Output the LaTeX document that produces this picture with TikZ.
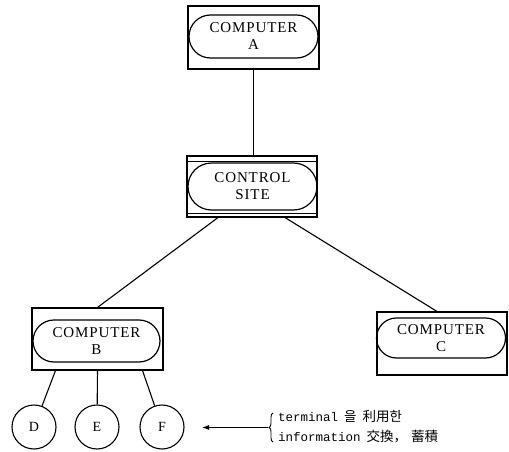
\documentclass[tikz,border=0pt]{standalone}
\usepackage{fontspec}
\setmainfont{Liberation Serif}
\newfontfamily\labelfont[LetterSpace=6]{Liberation Serif}
\newfontfamily\notefont{Liberation Mono}
\newfontfamily\cjkfont{Noto Sans CJK KR}
\usetikzlibrary{decorations.pathreplacing,arrows.meta}

\newcommand{\latinpart}[1]{{\notefont\fontsize{12.5}{14}\selectfont #1}}
\newcommand{\hangulpart}[1]{{\cjkfont\fontsize{13.5}{14}\selectfont #1}}

\begin{document}
\begin{tikzpicture}[x=1pt,y=-1pt,
  outerbox/.style={draw, rectangle, line width=1.1pt, inner sep=0pt},
  pill/.style={draw, rectangle, line width=1.2pt, inner sep=0pt, align=center,
    font=\labelfont\fontsize{15}{17}\selectfont},
  station/.style={draw, circle, line width=1.1pt, minimum size=44pt, inner sep=0pt,
    font=\fontsize{14}{16}\selectfont},
  link/.style={line width=1.1pt},
  note/.style={anchor=west, inner sep=0pt}]
\useasboundingbox (0,0) rectangle (509,452);

% computer A
\node[outerbox, minimum width=131pt, minimum height=63pt] (Abox) at (253.5,37.5) {};
\node[pill, rounded corners=21.5pt, minimum width=129pt, minimum height=43pt] (A) at (253.5,36.5) {COMPUTER\\A};

% control site, with doubled top and bottom edges
\node[outerbox, minimum width=130pt, minimum height=61pt] (ctrlbox) at (252,186.5) {};
\draw[line width=0.9pt] ([yshift=-6pt]ctrlbox.north west) -- ([yshift=-6pt]ctrlbox.north east);
\draw[line width=0.9pt] ([yshift=4pt]ctrlbox.south west) -- ([yshift=4pt]ctrlbox.south east);
\node[pill, rounded corners=23.5pt, minimum width=129pt, minimum height=47pt] (ctrl) at (252.5,186.5) {CONTROL\\SITE};

% computer B
\node[outerbox, minimum width=131pt, minimum height=62pt] (Bbox) at (97.5,339) {};
\node[pill, rounded corners=21pt, minimum width=127pt, minimum height=42pt] (B) at (96.5,341) {COMPUTER\\B};

% computer C
\node[outerbox, minimum width=130pt, minimum height=63pt] (Cbox) at (442,343.5) {};
\node[pill, rounded corners=20pt, minimum width=129pt, minimum height=40pt] (C) at (441,338) {COMPUTER\\C};

% terminals
\node[station] (D) at (34,427) {D};
\node[station] (E) at (97,427) {E};
\node[station] (F) at (162,427) {F};

% links
\draw[link] (Abox.south) -- (Abox.south |- ctrlbox.north);
\draw[link] ([xshift=-34pt]ctrlbox.south) -- (Bbox.north);
\draw[link] ([xshift=33pt]ctrlbox.south) -- ([xshift=-5pt]Cbox.north);
\draw[link] ([xshift=-42pt]Bbox.south) -- (D);
\draw[link] (Bbox.south) -- (E);
\draw[link] ([xshift=45pt]Bbox.south) -- (F);

% annotation
\node[note] (note1) at (278,416) {\latinpart{terminal}\hspace{6pt}\hangulpart{을}\hspace{6pt}\hangulpart{利用한}};
\node[note] (note2) at (278,437) {\latinpart{information}\hspace{6pt}\hangulpart{交換，}\hspace{4pt}\hangulpart{蓄積}};
\draw[line width=0.9pt, decorate, decoration={brace, amplitude=4pt}] (273,442) -- (273,413);
\coordinate (bracetip) at (268,427.5);
\coordinate (arrowend) at (202,427.5);
\draw[link, -{Latex[length=7pt,width=5pt]}] (bracetip) -- (arrowend);
\end{tikzpicture}
\end{document}
